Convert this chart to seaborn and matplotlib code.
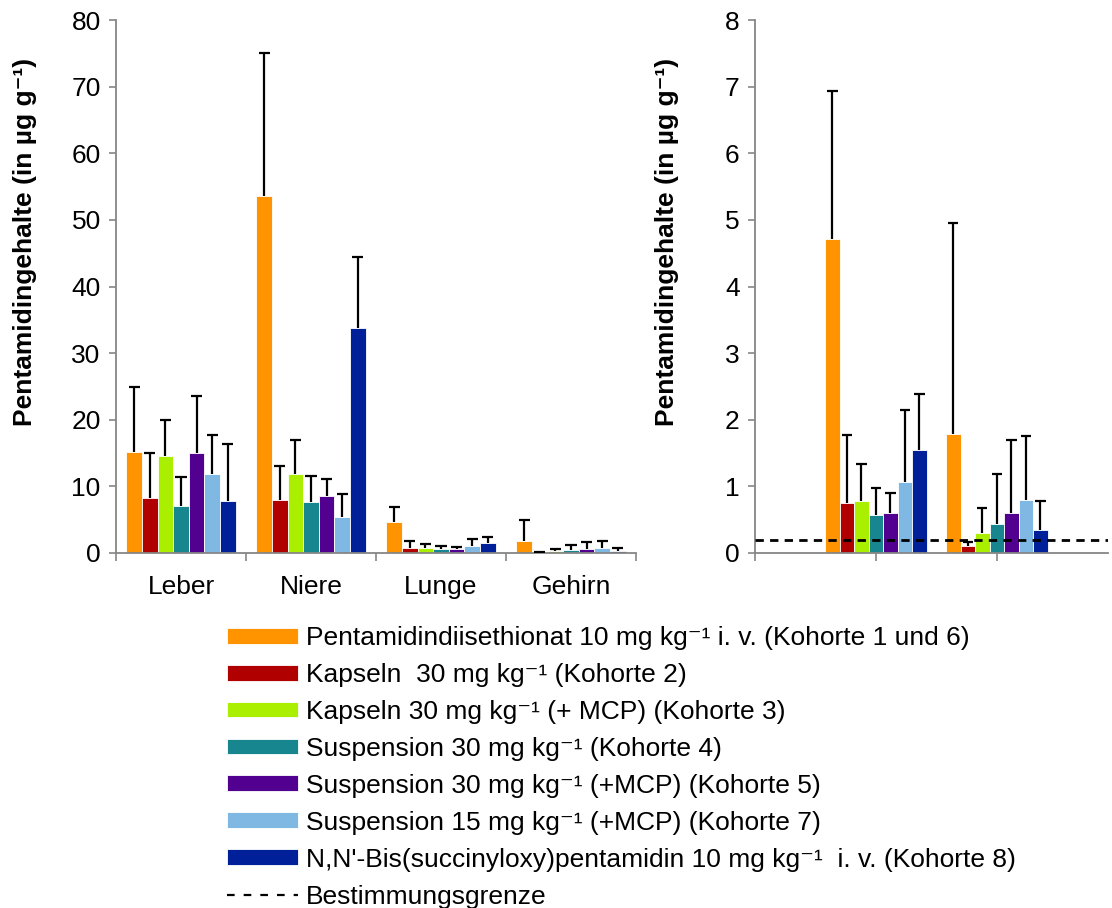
import numpy as np
import pandas as pd
import seaborn as sns
import matplotlib
matplotlib.use("Agg")
import matplotlib.pyplot as plt
from matplotlib.patches import Patch
from matplotlib.lines import Line2D

# ---------------- data ----------------
organs = ["Leber", "Niere", "Lunge", "Gehirn"]
organs_right = ["Lunge", "Gehirn"]
groups = [
    "Pentamidindiisethionat 10 mg kg\u207b\u00b9 i. v. (Kohorte 1 und 6)",
    "Kapseln  30 mg kg\u207b\u00b9 (Kohorte 2)",
    "Kapseln 30 mg kg\u207b\u00b9 (+ MCP) (Kohorte 3)",
    "Suspension 30 mg kg\u207b\u00b9 (Kohorte 4)",
    "Suspension 30 mg kg\u207b\u00b9 (+MCP) (Kohorte 5)",
    "Suspension 15 mg kg\u207b\u00b9 (+MCP) (Kohorte 7)",
    "N,N'-Bis(succinyloxy)pentamidin 10 mg kg\u207b\u00b9  i. v. (Kohorte 8)",
]
colors = ["#FF9400", "#B00000", "#AAEE00", "#17868F", "#52008F", "#80B8E4", "#00209A"]

# means per group: Leber, Niere, Lunge, Gehirn
mean_pentamidin = [15.2, 53.6, 4.72, 1.79]
mean_kapseln = [8.3, 7.95, 0.75, 0.10]
mean_kapseln_mcp = [14.6, 11.8, 0.78, 0.30]
mean_susp30 = [7.1, 7.6, 0.57, 0.43]
mean_susp30_mcp = [15.0, 8.5, 0.60, 0.60]
mean_susp15_mcp = [11.9, 5.4, 1.07, 0.80]
mean_bis = [7.8, 33.7, 1.55, 0.34]

# standard deviations (upper error bars)
sd_pentamidin = [9.7, 21.4, 2.21, 3.16]
sd_kapseln = [6.7, 5.15, 1.02, 0.06]
sd_kapseln_mcp = [5.4, 5.2, 0.56, 0.37]
sd_susp30 = [4.3, 4.0, 0.41, 0.75]
sd_susp30_mcp = [8.6, 2.6, 0.30, 1.09]
sd_susp15_mcp = [5.8, 3.5, 1.07, 0.96]
sd_bis = [8.6, 10.7, 0.83, 0.44]

loq = 0.2  # Bestimmungsgrenze

means = [mean_pentamidin, mean_kapseln, mean_kapseln_mcp, mean_susp30,
         mean_susp30_mcp, mean_susp15_mcp, mean_bis]
sds = [sd_pentamidin, sd_kapseln, sd_kapseln_mcp, sd_susp30,
       sd_susp30_mcp, sd_susp15_mcp, sd_bis]

rows = []
for g, m, s in zip(groups, means, sds):
    for o, mv, sv in zip(organs, m, s):
        rows.append({"organ": o, "group": g, "mean": mv, "sd": sv})
df = pd.DataFrame(rows)

# ---------------- style ----------------
sns.set_style("white")
plt.rcParams["font.family"] = ["Liberation Sans", "DejaVu Sans"]
plt.rcParams["lines.scale_dashes"] = False
plt.rcParams["text.color"] = "black"
plt.rcParams["axes.labelcolor"] = "black"
plt.rcParams["xtick.labelcolor"] = "black"
plt.rcParams["ytick.labelcolor"] = "black"

W, H = 1112, 908
fig = plt.figure(figsize=(W / 100, H / 100), dpi=100)
axL = fig.add_axes([116 / W, (H - 553) / H, (636 - 116) / W, (553 - 20) / H])
axR = fig.add_axes([755 / W, (H - 553) / H, (1108 - 755) / W, (553 - 20) / H])

spine_col = "#868686"
FS = 19


def draw(ax, data, order):
    sns.barplot(data=data, x="organ", y="mean", hue="group", order=order,
                hue_order=groups, palette=colors, width=0.84, errorbar=None,
                saturation=1, ax=ax, legend=False, linewidth=0.6, edgecolor="white")
    n = len(order)
    patches = [p for p in ax.patches]
    for gi, g in enumerate(groups):
        sub = data[data["group"] == g].set_index("organ").loc[order]
        for oi in range(n):
            p = patches[gi * n + oi]
            xc = p.get_x() + p.get_width() / 2
            m = sub["mean"].iloc[oi]
            top = m + sub["sd"].iloc[oi]
            hw = p.get_width() * 0.36
            ax.vlines(xc, m, top, color="black", lw=1.6, zorder=3)
            ax.hlines(top, xc - hw, xc + hw, color="black", lw=1.6, zorder=3)
    for s in ["top", "right"]:
        ax.spines[s].set_visible(False)
    for s in ["left", "bottom"]:
        ax.spines[s].set_color(spine_col)
        ax.spines[s].set_linewidth(1.3)
    ax.set_xlabel("")
    ax.set_ylabel("Pentamidingehalte (in \u00b5g g\u207b\u00b9)", fontsize=19,
                  fontweight="bold")
    ax.tick_params(axis="y", which="major", direction="out", length=5, width=1.2,
                   color=spine_col, labelsize=FS, pad=6, left=True)
    ax.tick_params(axis="x", which="major", direction="out", length=6, width=1.2,
                   color=spine_col, labelbottom=False, bottom=True)
    ax.tick_params(axis="x", which="minor", length=0, labelsize=FS, pad=15.5,
                   bottom=True)


dfR = df[df["organ"].isin(organs_right)]
draw(axL, df, organs)
draw(axR, dfR, organs_right)

# left axes
axL.set_ylim(0, 80)
axL.set_yticks(np.arange(0, 81, 10))
axL.set_xlim(-0.5, 3.5)
axL.set_xticks([-0.5, 0.5, 1.5, 2.5, 3.5])
axL.set_xticks(range(4), minor=True)
axL.set_xticklabels(organs, minor=True)
axL.yaxis.set_label_coords(-0.152, 0.583)

# right axes
axR.set_ylim(0, 8)
axR.set_yticks(np.arange(0, 9, 1))
axR.set_xlim(-1, 1.92)
axR.set_xticks([-1, 0, 1])
axR.set_xticks([0, 1], minor=True)
axR.set_xticklabels(organs_right, minor=True)
axR.axhline(loq, color="black", lw=2, ls=(0, (6, 4.5)), zorder=4)
axR.yaxis.set_label_coords(-0.215, 0.583)

# legend
handles = [Patch(facecolor=c, edgecolor="white", linewidth=0.6) for c in colors]
handles.append(Line2D([0], [0], color="black", lw=1.6, ls=(0, (5.5, 6.5))))
labels = groups + ["Bestimmungsgrenze"]
fig.legend(handles, labels, loc="upper left",
           bbox_to_anchor=(227 / W, (H - 626) / H), frameon=False,
           fontsize=FS, handlelength=2.7, handleheight=0.55, handletextpad=0.3,
           labelspacing=0.49, borderpad=0, borderaxespad=0)

fig.savefig("out.png", dpi=100)
